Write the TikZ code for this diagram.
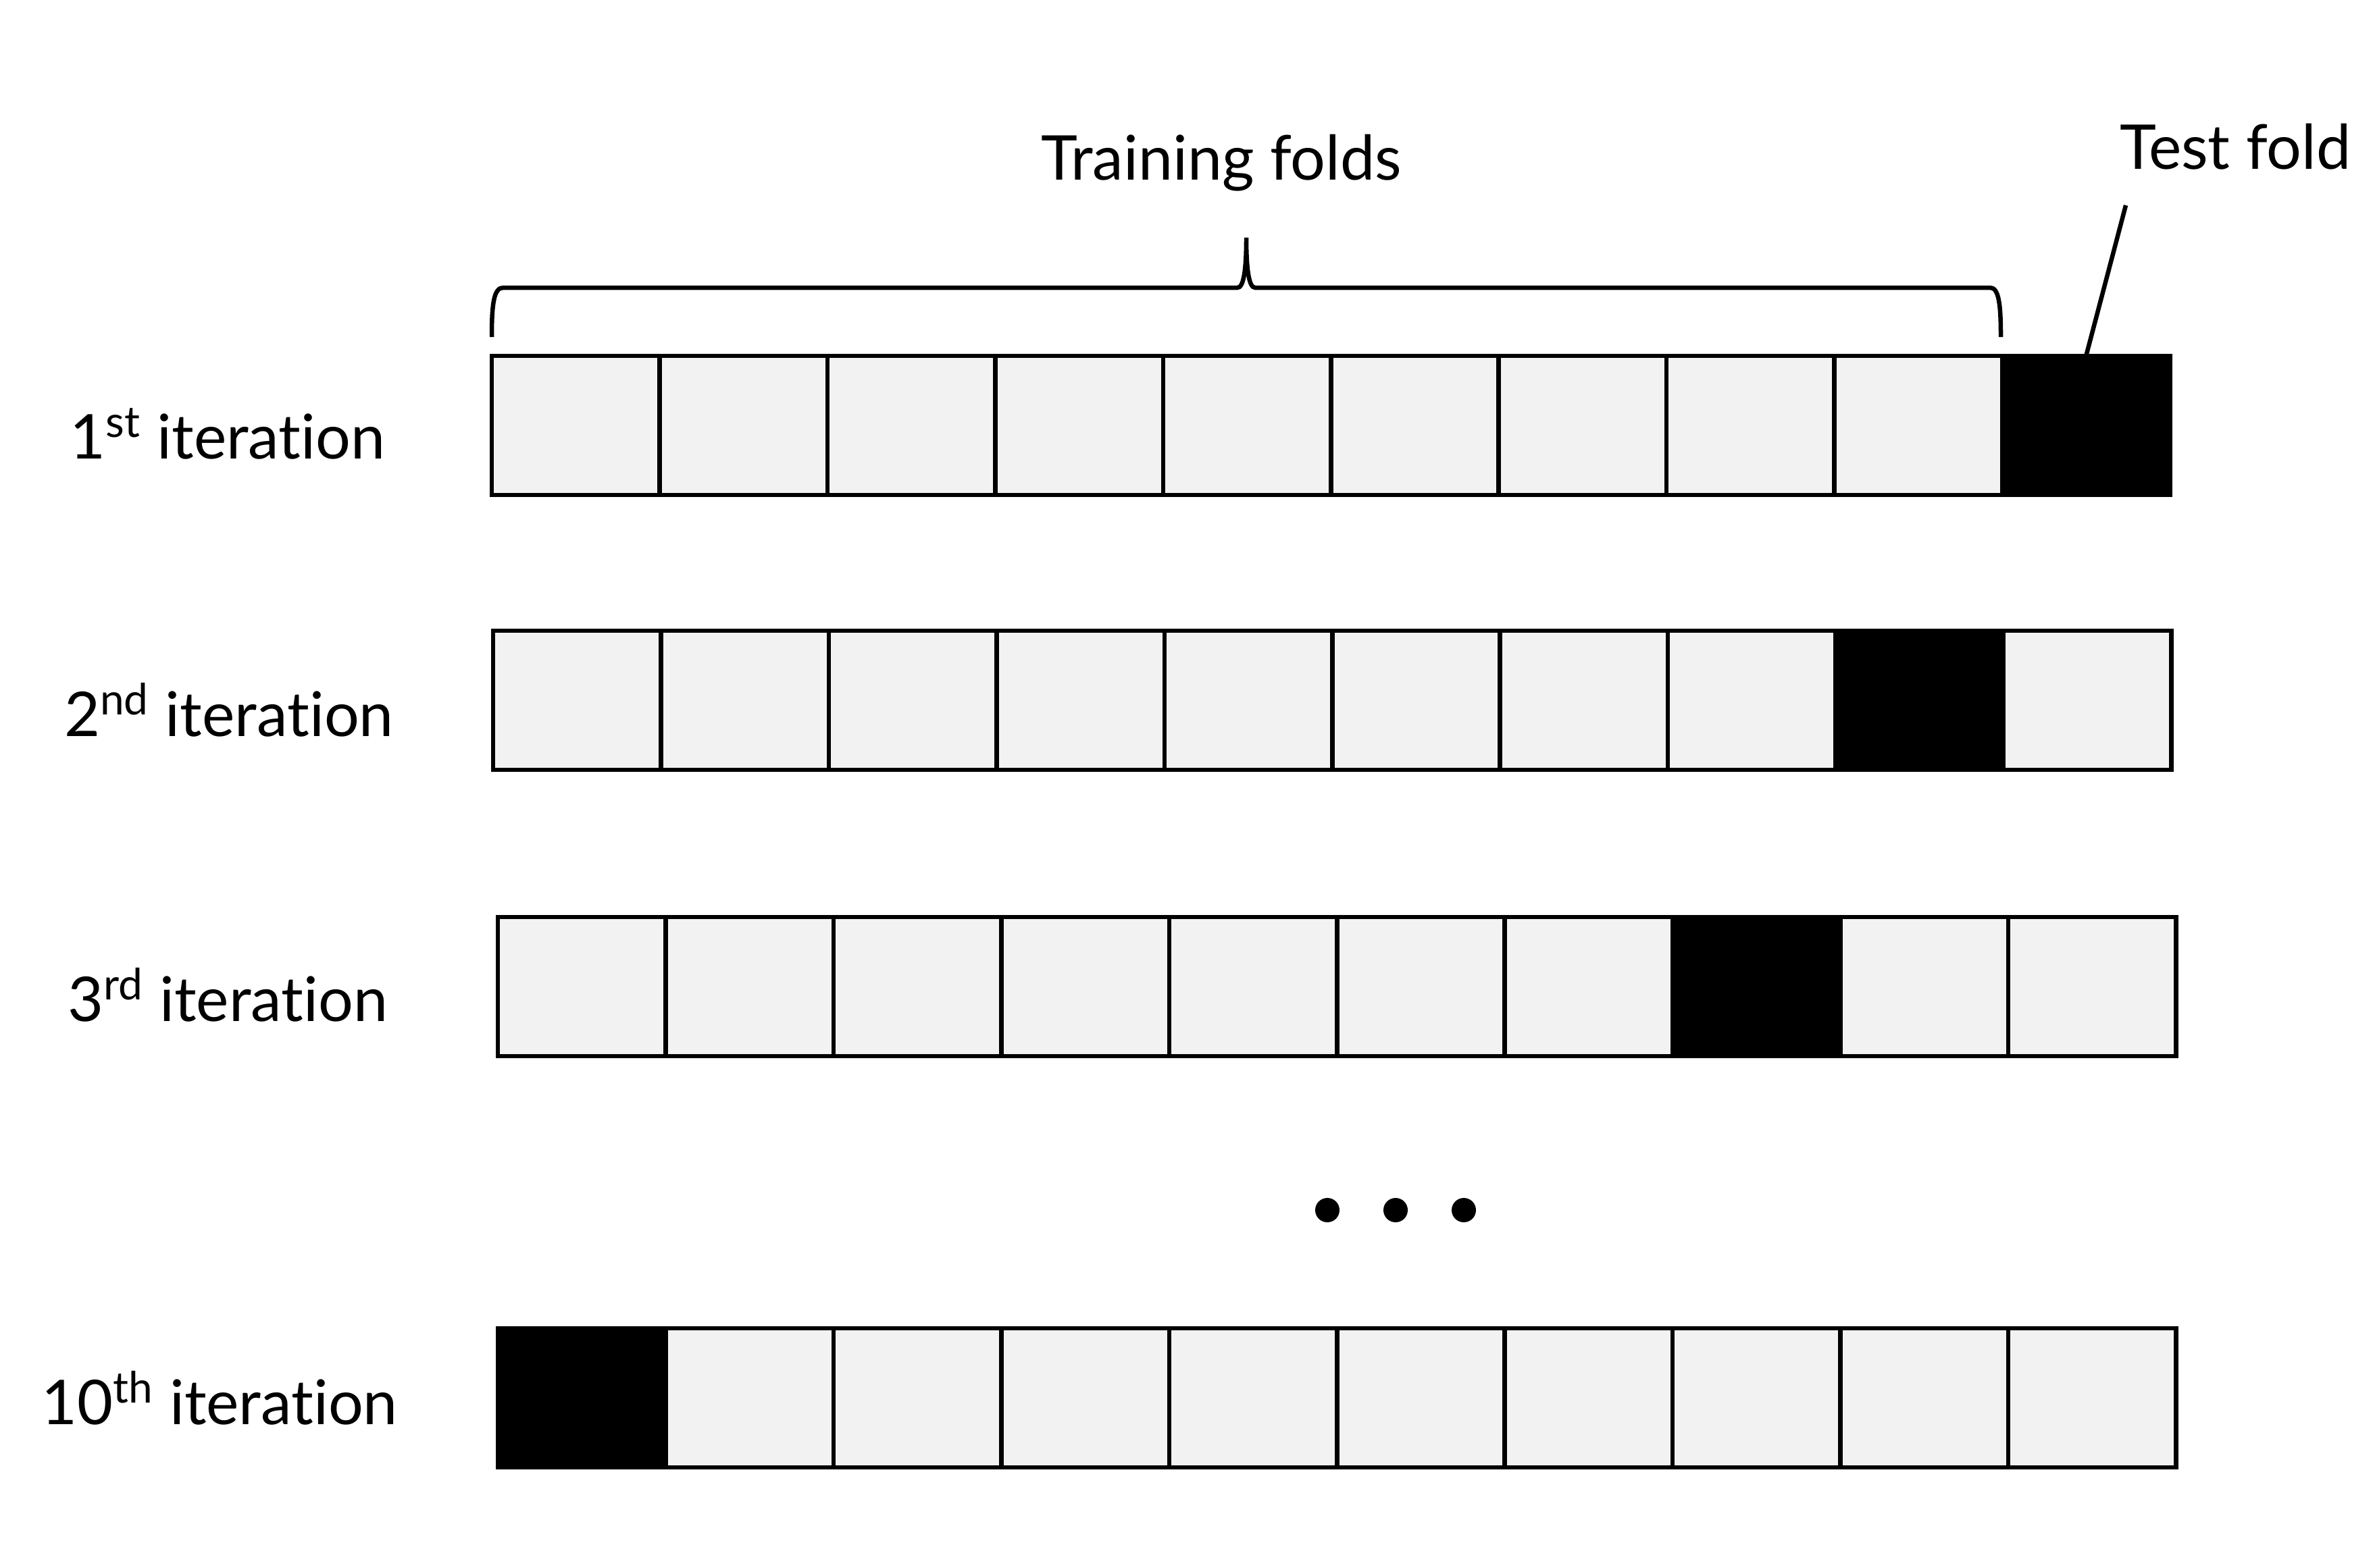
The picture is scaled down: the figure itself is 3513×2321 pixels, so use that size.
\documentclass[tikz,border=0pt]{standalone}
\usepackage{xcolor}
\usepackage{fontspec}
\setmainfont[Ligatures=NoCommon]{Lato}
\usepackage{tikz}
\usetikzlibrary{positioning}

\definecolor{foldgray}{HTML}{F2F2F2}

\begin{document}
\begin{tikzpicture}[x=0.01cm, y=-0.01cm, line width=0.065cm,
    fold/.style={rectangle, draw, fill=foldgray, inner sep=0pt, outer sep=0pt, minimum width=2.483cm, minimum height=2.06cm},
    testcell/.style={fold, fill=black},
    lbl/.style={font=\fontsize{26pt}{30pt}\selectfont, inner sep=0pt, anchor=base},
    dot/.style={circle, fill=black, inner sep=0pt, minimum size=0.36cm}]

    \useasboundingbox (0,0) rectangle (3513,2321);

    % Rows of folds (row / top / left / test fold)
    \foreach \r/\y/\x/\t in {1/527/728/10, 2/934/730/9, 3/1358/737/8, 4/1967/737/1} {
        \foreach \c [count=\p from 0] in {1,...,10} {
            \ifnum\c=\t \def\sty{testcell}\else \def\sty{fold}\fi
            \ifnum\c=1
                \node[\sty, anchor=north west] (f\r-\c) at (\x,\y) {};
            \else
                \node[\sty, right=0pt of f\r-\p] (f\r-\c) {};
            \fi
        }
    }

    % Row labels
    \node[lbl] (it1) at (337,679) {1\textsuperscript{st} iteration};
    \node[lbl] (it2) at (339,1090) {2\textsuperscript{nd} iteration};
    \node[lbl] (it3) at (337,1512) {3\textsuperscript{rd} iteration};
    \node[lbl] (it10) at (325,2109) {10\textsuperscript{th} iteration};

    % Training folds brace
    \node[lbl] (train) at (1808,266) {Training folds};
    \draw (728,499) .. controls (728,450) and (731,426) .. (745,426) -- (1832,426)
        .. controls (1841,426) and (1845,400) .. (1845,352)
        .. controls (1845,400) and (1849,426) .. (1858,426) -- (2946,426)
        .. controls (2959,426) and (2962,450) .. (2962,499);

    % Test fold pointer
    \node[lbl] (test) at (3309,250) {Test fold};
    \coordinate (testtip) at (3147,304);
    \draw (testtip) -- (f1-10.north);

    % Dots
    \foreach \i/\x in {1/1965, 2/2066, 3/2167}
        \node[dot] (dot\i) at (\x,1792) {};

\end{tikzpicture}
\end{document}
